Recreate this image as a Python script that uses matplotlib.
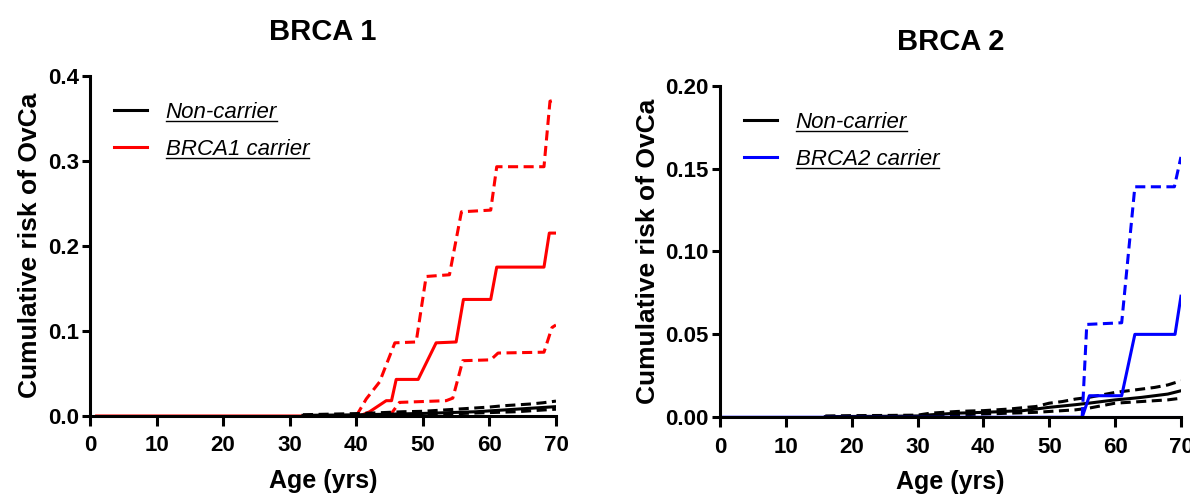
import matplotlib
matplotlib.use("Agg")
import matplotlib.pyplot as plt
from matplotlib.lines import Line2D

plt.rcParams['font.family'] = ['Liberation Sans', 'DejaVu Sans']

# ---- BRCA 1 panel ----
age_b1 = [1, 40.5, 42, 44.5, 45.3, 46, 49.3, 52, 55, 56.1, 60.2, 61.1, 68.2, 69, 70]
risk_b1 = [0, 0, 0.005, 0.018, 0.018, 0.043, 0.043, 0.086, 0.087, 0.137, 0.137, 0.175, 0.175, 0.215, 0.215]
age_b1_hi = [40, 41.5, 43.5, 45.8, 49, 50.5, 54, 55.8, 60.2, 61.1, 68.2, 69.1, 70]
risk_b1_hi = [0, 0.02, 0.04, 0.086, 0.087, 0.164, 0.166, 0.240, 0.242, 0.293, 0.293, 0.370, 0.372]
age_b1_lo = [45, 46.5, 53.5, 54.5, 56, 60.2, 61.3, 68.2, 69.4, 70]
risk_b1_lo = [0, 0.016, 0.018, 0.021, 0.065, 0.066, 0.074, 0.075, 0.104, 0.107]

age_nc1 = [32, 35, 38, 41, 44, 47, 50, 52, 54, 56, 58, 60, 62, 64, 66, 68, 70]
risk_nc1 = [0.0008, 0.001, 0.0012, 0.0015, 0.002, 0.0025, 0.003, 0.0035, 0.004, 0.0045,
            0.005, 0.006, 0.007, 0.008, 0.009, 0.010, 0.011]
risk_nc1_hi = [0.0015, 0.002, 0.0025, 0.003, 0.004, 0.005, 0.0055, 0.0065, 0.0075, 0.0085,
               0.0095, 0.0105, 0.012, 0.013, 0.014, 0.0155, 0.0175]
risk_nc1_lo = [0, 0, 0, 0.0005, 0.001, 0.0012, 0.0015, 0.002, 0.0025, 0.003,
               0.0035, 0.004, 0.0045, 0.005, 0.006, 0.007, 0.008]

# ---- BRCA 2 panel ----
age_b2 = [0, 55, 56.1, 61, 63, 69.1, 70]
risk_b2 = [0, 0, 0.013, 0.013, 0.050, 0.050, 0.073]
age_b2_hi = [55, 55.7, 61, 63, 69, 70]
risk_b2_hi = [0, 0.056, 0.057, 0.139, 0.139, 0.157]
age_b2_lo = [0, 70]
risk_b2_lo = [0, 0]

age_nc2 = [16, 20, 25, 30, 32, 34, 36, 38, 40, 42, 44, 46, 48, 50, 52, 54, 56, 58, 60, 62, 64, 66, 68, 70]
risk_nc2 = [0.0004, 0.0005, 0.0006, 0.0008, 0.0015, 0.002, 0.0025, 0.0027, 0.003, 0.0033, 0.0037, 0.004,
            0.005, 0.006, 0.0068, 0.0076, 0.0085, 0.0095, 0.0105, 0.0112, 0.012, 0.013, 0.014, 0.016]
risk_nc2_hi = [0.0008, 0.001, 0.0011, 0.0013, 0.0025, 0.003, 0.0035, 0.0038, 0.004, 0.0045, 0.005, 0.0058,
               0.0065, 0.0085, 0.0095, 0.011, 0.012, 0.0135, 0.015, 0.016, 0.017, 0.018, 0.0195, 0.022]
risk_nc2_lo = [0, 0, 0, 0.0002, 0.0008, 0.001, 0.0015, 0.0017, 0.002, 0.0022, 0.0025, 0.0027,
               0.003, 0.0035, 0.004, 0.0045, 0.0055, 0.007, 0.0085, 0.009, 0.0095, 0.01, 0.0105, 0.0115]

x_ticks = [0, 10, 20, 30, 40, 50, 60, 70]
y_ticks1 = [0.0, 0.1, 0.2, 0.3, 0.4]
y_ticks2 = [0.00, 0.05, 0.10, 0.15, 0.20]

fig = plt.figure(figsize=(11.9, 4.95), dpi=100)
ax1 = fig.add_axes([0.0756, 0.1596, 0.3916, 0.6875])
ax2 = fig.add_axes([0.605, 0.157, 0.3874, 0.670])

lw = 2.2
dash = (0, (3.3, 1.8))

# left
ax1.plot(age_b1, risk_b1, color='red', lw=lw)
ax1.plot(age_b1_hi, risk_b1_hi, color='red', lw=lw, linestyle=dash)
ax1.plot(age_b1_lo, risk_b1_lo, color='red', lw=lw, linestyle=dash)
ax1.plot(age_nc1, risk_nc1, color='black', lw=lw)
ax1.plot(age_nc1, risk_nc1_hi, color='black', lw=lw, linestyle=dash)
ax1.plot(age_nc1, risk_nc1_lo, color='black', lw=lw, linestyle=dash)

# right
ax2.plot(age_nc2, risk_nc2, color='black', lw=lw)
ax2.plot(age_nc2, risk_nc2_hi, color='black', lw=lw, linestyle=dash)
ax2.plot(age_nc2, risk_nc2_lo, color='black', lw=lw, linestyle=dash)
ax2.plot(age_b2_lo, risk_b2_lo, color='blue', lw=lw)
ax2.plot(age_b2, risk_b2, color='blue', lw=lw)
ax2.plot(age_b2_hi, risk_b2_hi, color='blue', lw=lw, linestyle=dash)

panels = [
    (ax1, 'BRCA 1', y_ticks1, '%.1f', 'red', 'BRCA1 carrier', 26),
    (ax2, 'BRCA 2', y_ticks2, '%.2f', 'blue', 'BRCA2 carrier', 26),
]

legends = []
for ax, title, yt, fmt, col, lab, tpad in panels:
    ax.set_xlim(0, 70)
    ax.set_ylim(yt[0], yt[-1])
    ax.set_xticks(x_ticks)
    ax.set_yticks(yt)
    ax.set_yticklabels([fmt % v for v in yt])
    for s in ['top', 'right']:
        ax.spines[s].set_visible(False)
    for s in ['left', 'bottom']:
        ax.spines[s].set_linewidth(2.2)
    ax.tick_params(direction='out', width=2.2, labelsize=16)
    ax.tick_params(axis='x', length=7, pad=7)
    ax.tick_params(axis='y', length=6, pad=2)
    for t in ax.get_xticklabels() + ax.get_yticklabels():
        t.set_fontweight('bold')
    ax.set_xlabel('Age (yrs)', fontsize=18, fontweight='bold', labelpad=9)
    ax.set_ylabel('Cumulative risk of OvCa', fontsize=19, fontweight='bold', labelpad=4)
    ax.set_title(title, fontsize=21, fontweight='bold', pad=tpad)
    ax.patch.set_alpha(0)
    handles = [Line2D([], [], color='black', lw=lw), Line2D([], [], color=col, lw=lw)]
    leg = ax.legend(handles, ['Non-carrier', lab], loc='upper left', bbox_to_anchor=(0.0, 0.995),
                    frameon=False, prop={'size': 16, 'style': 'italic'},
                    handlelength=1.45, handletextpad=0.85, labelspacing=0.72, borderpad=0.6)
    legends.append(leg)

# underline legend entries
fig.canvas.draw()
for leg in legends:
    for t in leg.get_texts():
        bb = t.get_window_extent()
        y = (bb.y0 + 2) / fig.bbox.height
        fig.add_artist(Line2D([bb.x0 / fig.bbox.width, bb.x1 / fig.bbox.width], [y, y],
                              color='black', lw=1.0, transform=fig.transFigure))

fig.savefig('out.png', dpi=100)
